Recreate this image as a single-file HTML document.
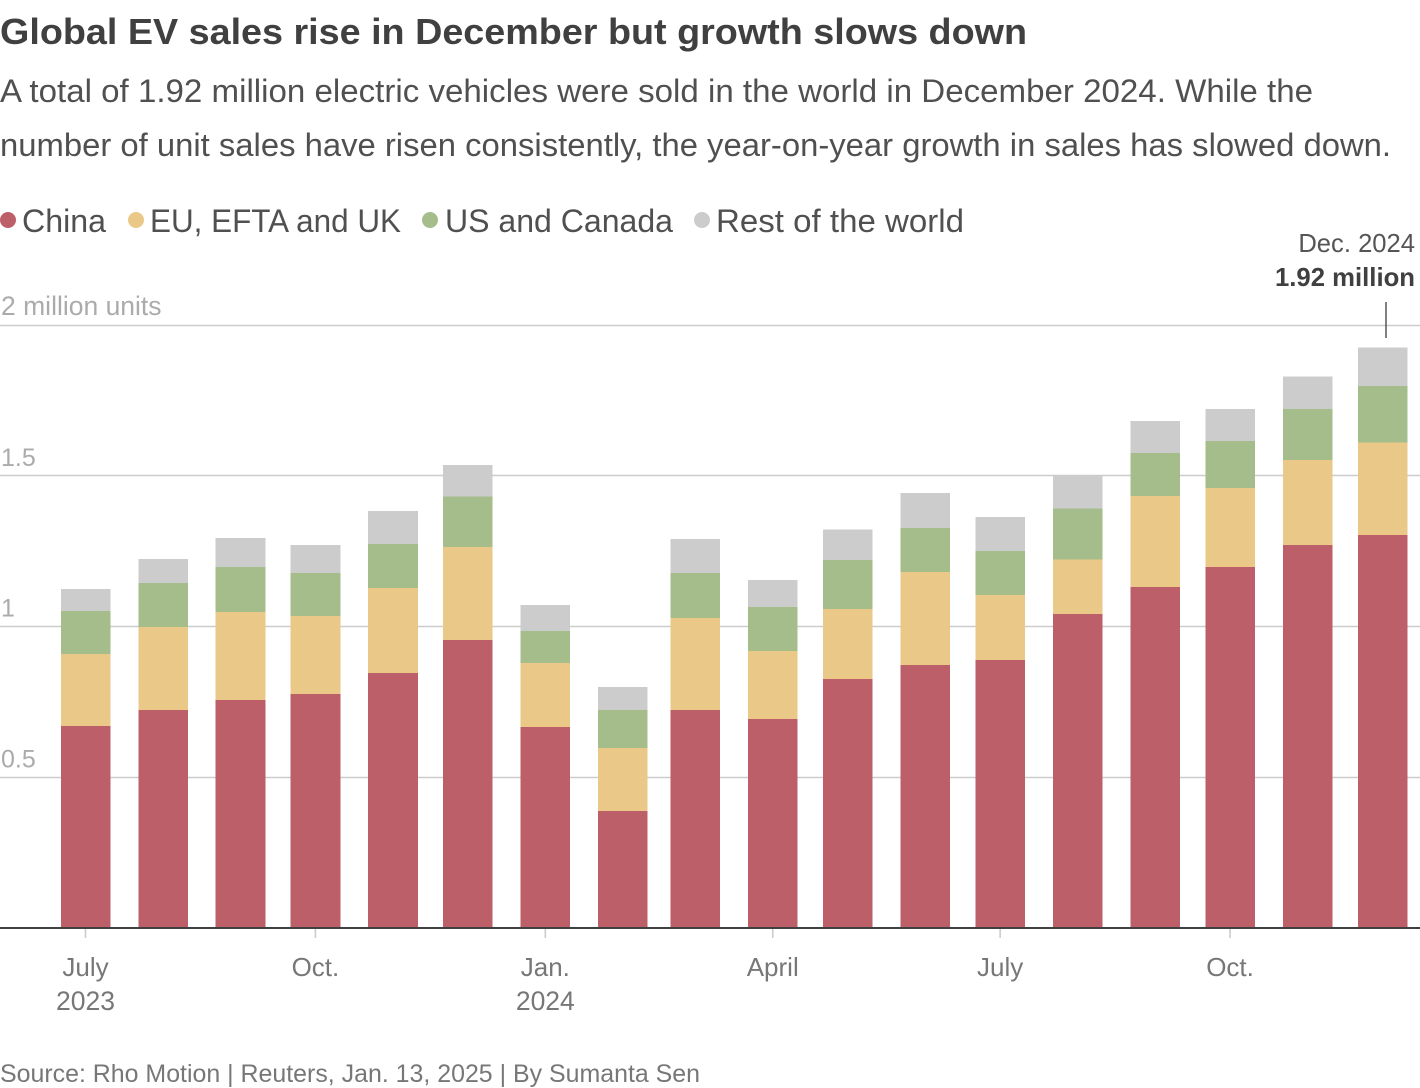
<!DOCTYPE html>
<html lang="en">
<head>
<meta charset="utf-8">
<title>Global EV sales rise in December but growth slows down</title>
<style>
html,body{margin:0;padding:0;background:#fff;}
body{width:1420px;height:1088px;overflow:hidden;}
svg{display:block;font-family:"Liberation Sans",sans-serif;}
</style>
</head>
<body>
<svg id="chart" xmlns="http://www.w3.org/2000/svg" width="1420" height="1088" viewBox="0 0 1420 1088">
  <text x="0" y="44" font-size="36" font-weight="700" fill="#404040" textLength="1027" lengthAdjust="spacingAndGlyphs">Global EV sales rise in December but growth slows down</text>
  <text x="0" y="102" font-size="32" fill="#505050" textLength="1313" lengthAdjust="spacingAndGlyphs">A total of 1.92 million electric vehicles were sold in the world in December 2024. While the</text>
  <text x="0" y="156" font-size="32" fill="#505050" textLength="1391" lengthAdjust="spacingAndGlyphs">number of unit sales have risen consistently, the year-on-year growth in sales has slowed down.</text>

  <g>
    <circle cx="8" cy="220" r="8" fill="#bc5f69"/>
    <text x="22" y="232" font-size="32" fill="#505050" textLength="84" lengthAdjust="spacingAndGlyphs">China</text>
    <circle cx="136" cy="220" r="8" fill="#eac988"/>
    <text x="150" y="232" font-size="32" fill="#505050" textLength="251" lengthAdjust="spacingAndGlyphs">EU, EFTA and UK</text>
    <circle cx="430" cy="220" r="8" fill="#a5bd8a"/>
    <text x="445" y="232" font-size="32" fill="#505050" textLength="228" lengthAdjust="spacingAndGlyphs">US and Canada</text>
    <circle cx="702" cy="220" r="8" fill="#cccccc"/>
    <text x="716" y="232" font-size="32" fill="#505050" textLength="248" lengthAdjust="spacingAndGlyphs">Rest of the world</text>
  </g>

  <g id="grid"></g>
  <g id="bars" shape-rendering="crispEdges"></g>
  <g id="xaxis"></g>

  <g>
    <text x="1415" y="252" font-size="25.6" fill="#555" text-anchor="end">Dec. 2024</text>
    <text x="1415" y="286" font-size="26" font-weight="700" fill="#404040" text-anchor="end" textLength="140" lengthAdjust="spacingAndGlyphs">1.92 million</text>
    <line x1="1386" x2="1386" y1="302" y2="338" stroke="#555" stroke-width="1.5"/>
  </g>

  <text x="0" y="1082" font-size="25" fill="#777" textLength="700" lengthAdjust="spacingAndGlyphs">Source: Rho Motion | Reuters, Jan. 13, 2025 | By Sumanta Sen</text>
</svg>
<script>
const months = ["2023-07","2023-08","2023-09","2023-10","2023-11","2023-12","2024-01","2024-02","2024-03","2024-04","2024-05","2024-06","2024-07","2024-08","2024-09","2024-10","2024-11","2024-12"];
const china = [0.670,0.723,0.756,0.776,0.846,0.955,0.667,0.388,0.723,0.693,0.826,0.872,0.889,1.041,1.131,1.197,1.270,1.303];
const eu = [0.239,0.275,0.292,0.259,0.282,0.308,0.212,0.209,0.305,0.226,0.232,0.308,0.216,0.182,0.302,0.262,0.282,0.308];
const usCanada = [0.143,0.146,0.149,0.143,0.146,0.169,0.106,0.126,0.149,0.146,0.163,0.146,0.146,0.169,0.143,0.156,0.169,0.186];
const rest = [0.073,0.080,0.096,0.093,0.109,0.103,0.086,0.076,0.113,0.090,0.100,0.116,0.113,0.109,0.106,0.106,0.109,0.129];
const yTicks = [0.5,1,1.5,2];
const yTickLabels = ["0.5","1","1.5","2 million units"];
const xTickMonths = ["2023-07","2023-10","2024-01","2024-04","2024-07","2024-10"];
const xTickLabels = ["July","Oct.","Jan.","April","July","Oct."];
const xTickYears = ["2023","","2024","","",""];

const NS = "http://www.w3.org/2000/svg";
const seriesList = [
  {key:"china", values:china, color:"#bc5f69"},
  {key:"eu", values:eu, color:"#eac988"},
  {key:"us-canada", values:usCanada, color:"#a5bd8a"},
  {key:"rest", values:rest, color:"#cccccc"}
];

function toDays(m){
  const p = m.split("-");
  return Date.UTC(+p[0], +p[1]-1, 1) / 86400000;
}
const day0 = toDays(months[0]);
function x(m){ return 85.5 + (toDays(m) - day0) * 2.499; }
function y(v){ return 928 - v * 301.5; }
function make(tag, parent, props, text){
  const el = document.createElementNS(NS, tag);
  for (const k in props) el.setAttribute(k, props[k]);
  if (text !== undefined) el.textContent = text;
  parent.appendChild(el);
  return el;
}

const gridG = document.getElementById("grid");
yTicks.forEach(function(t, i){
  const gy = Math.floor(y(t)) + 0.5;
  const gl = make("line", gridG, {x1:0, x2:1420, y1:gy, y2:gy, stroke:"#cccccc", "stroke-width":1.6});
  
  
  const long = yTickLabels[i].length > 3;
  const lb = make("text", gridG, {x:1, y:y(t)-10, "font-size":long ? 26.5 : 25, fill:"#ababab"}, yTickLabels[i]);
  
  
});

const barsG = document.getElementById("bars");
months.forEach(function(m, i){
  let base = 0;
  seriesList.forEach(function(s){
    const v = s.values[i];
    const top = y(base + v);
    const r = make("rect", barsG, {x:x(m)-24.7, y:top, width:49.6, height:y(base)-top, fill:s.color});
    
    
    base += v;
  });
});

const axisG = document.getElementById("xaxis");
const baseLine = make("line", axisG, {x1:0, x2:1420, y1:928, y2:928, stroke:"#404040", "stroke-width":2});


xTickMonths.forEach(function(m, i){
  const cx = x(m);
  const tk = make("line", axisG, {x1:cx, x2:cx, y1:929, y2:938, stroke:"#cccccc", "stroke-width":1.6});
  
  
  const lb = make("text", axisG, {x:cx, y:976, "font-size":26, fill:"#777", "text-anchor":"middle"}, xTickLabels[i]);
  
  
  if (xTickYears[i]) {
    const yr = make("text", axisG, {x:cx, y:1010, "font-size":26.5, fill:"#777", "text-anchor":"middle"}, xTickYears[i]);
    
    
  }
});
</script>
</body>
</html>
